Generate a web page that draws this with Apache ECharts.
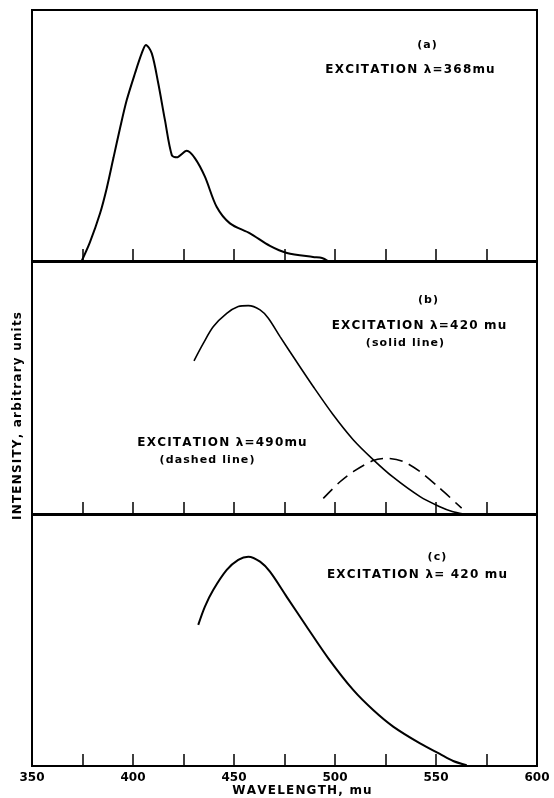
<!DOCTYPE html>
<html><head><meta charset="utf-8">
<script src="https://cdn.jsdelivr.net/npm/echarts@6/dist/echarts.min.js"></script>
<style>html,body{margin:0;padding:0;background:#fff}#c{width:554px;height:798px}</style>
</head><body><div id="c"></div>
<script>
// wavelength ticks (mu)
const xTicks = [350, 375, 400, 425, 450, 475, 500, 525, 550, 575, 600];
const xLabels = [350, 400, 450, 500, 550, 600];

// Panel (a): excitation 368 mu
const waveA = [374.6, 378.7, 383.7, 387.0, 390.3, 393.6, 396.9, 401.0, 404.3, 406.4, 409.3, 412.5, 415.8, 419.2, 421.6, 426.6, 430.7, 435.6, 441.4, 448.0, 457.9, 467.8, 476.2, 489.1, 493.6, 496.5];
const intA  = [0, 7.5, 19.0, 29.0, 41.0, 53.0, 64.1, 74.8, 82.7, 86.1, 82.7, 70.8, 56.2, 42.2, 41.3, 43.9, 40.9, 33.6, 21.6, 15.0, 11.0, 6.0, 3.2, 1.6, 1.2, 0];

// Panel (b): excitation 420 mu (solid)
const waveB = [430.2, 434.8, 439.7, 446.4, 452.1, 457.1, 462.9, 467.0, 472.8, 481.0, 489.3, 499.0, 509.0, 518.9, 528.8, 542.1, 551.9, 558.0, 563.5];
const intB  = [60.8, 67.7, 74.3, 79.6, 82.3, 82.7, 81.0, 77.7, 70.4, 60.4, 50.5, 39.5, 29.5, 21.6, 14.6, 6.9, 2.9, 1.0, 0];

// Panel (b): excitation 490 mu (dashed)
const waveBd = [494.2, 502.5, 509.0, 518.9, 525.6, 533.8, 542.1, 551.9, 562.7];
const intBd  = [6.2, 12.8, 16.8, 21.2, 22.1, 20.8, 16.8, 10.2, 2.3];

// Panel (c): excitation 420 mu
const waveC = [432.3, 435.6, 439.7, 446.4, 452.1, 457.1, 462.9, 467.8, 476.1, 486.0, 496.7, 509.0, 518.9, 528.8, 542.1, 551.9, 558.5, 565.2];
const intC  = [56.2, 63.5, 70.1, 78.1, 82.1, 83.4, 81.4, 77.4, 67.4, 55.5, 42.9, 30.3, 22.3, 15.7, 9.0, 4.8, 2.0, 0.3];

const pairs = (xs, ys) => xs.map((x, i) => [x, ys[i]]);

const chart = echarts.init(document.getElementById('c'));
const font = '"DejaVu Sans", sans-serif';
const grids = [
  {left: 32, width: 505, top: 10, height: 251},
  {left: 32, width: 505, top: 262, height: 252},
  {left: 32, width: 505, top: 515, height: 251}
].map(g => Object.assign(g, {show: true, borderColor: '#000', borderWidth: 2, backgroundColor: 'transparent'}));

const xAxes = [0, 1, 2].map(i => ({
  type: 'value', gridIndex: i, min: xTicks[0], max: xTicks[xTicks.length - 1], interval: 25,
  axisLine: {show: true, lineStyle: {color: '#000', width: 2}},
  axisTick: {show: true, inside: true, length: 12, lineStyle: {color: '#000', width: 1.5}},
  splitLine: {show: false},
  axisLabel: {
    show: i === 2, color: '#000', fontFamily: font, fontWeight: 'bold', fontSize: 12, margin: 6,
    formatter: v => xLabels.indexOf(v) >= 0 ? String(v) : ''
  }
}));
const yAxes = [0, 1, 2].map(i => ({
  type: 'value', gridIndex: i, min: 0, max: 100,
  show: false, splitLine: {show: false}
}));

const lineS = (data, gi, width, type) => ({
  type: 'line', xAxisIndex: gi, yAxisIndex: gi, data: data, smooth: 0.3,
  showSymbol: false, symbol: 'none', animation: false,
  lineStyle: {color: '#000', width: width, type: type || 'solid'}
});

const sp = s => s.split('').join('\u200A');
function tc(x, y, s, size, rot) {
  return {type: 'text', x: x, y: y, rotation: rot || 0,
    style: {text: sp(s), fill: '#000', font: 'bold ' + (size || 12) + 'px ' + font, align: 'center', verticalAlign: 'middle'}};
}

chart.setOption({
  animation: false,
  grid: grids,
  xAxis: xAxes,
  yAxis: yAxes,
  series: [
    lineS(pairs(waveA, intA), 0, 2),
    lineS(pairs(waveB, intB), 1, 1.6),
    lineS(pairs(waveBd, intBd), 1, 1.6, [13, 7]),
    lineS(pairs(waveC, intC), 2, 2)
  ],
  graphic: [
    tc(427, 45, '(a)', 11),
    tc(410, 70, 'EXCITATION λ=368mu', 12),
    tc(428, 300, '(b)', 11),
    tc(419, 326, 'EXCITATION λ=420 mu', 12),
    tc(405, 343, '(solid line)', 11),
    tc(222, 443, 'EXCITATION λ=490mu', 12),
    tc(207, 460, '(dashed line)', 11),
    tc(437, 557, '(c)', 11),
    tc(417, 575, 'EXCITATION λ= 420 mu', 12),
    tc(302, 791, 'WAVELENGTH, mu', 12),
    tc(18, 416, 'INTENSITY, arbitrary units', 12, Math.PI / 2)
  ]
});
</script></body></html>
